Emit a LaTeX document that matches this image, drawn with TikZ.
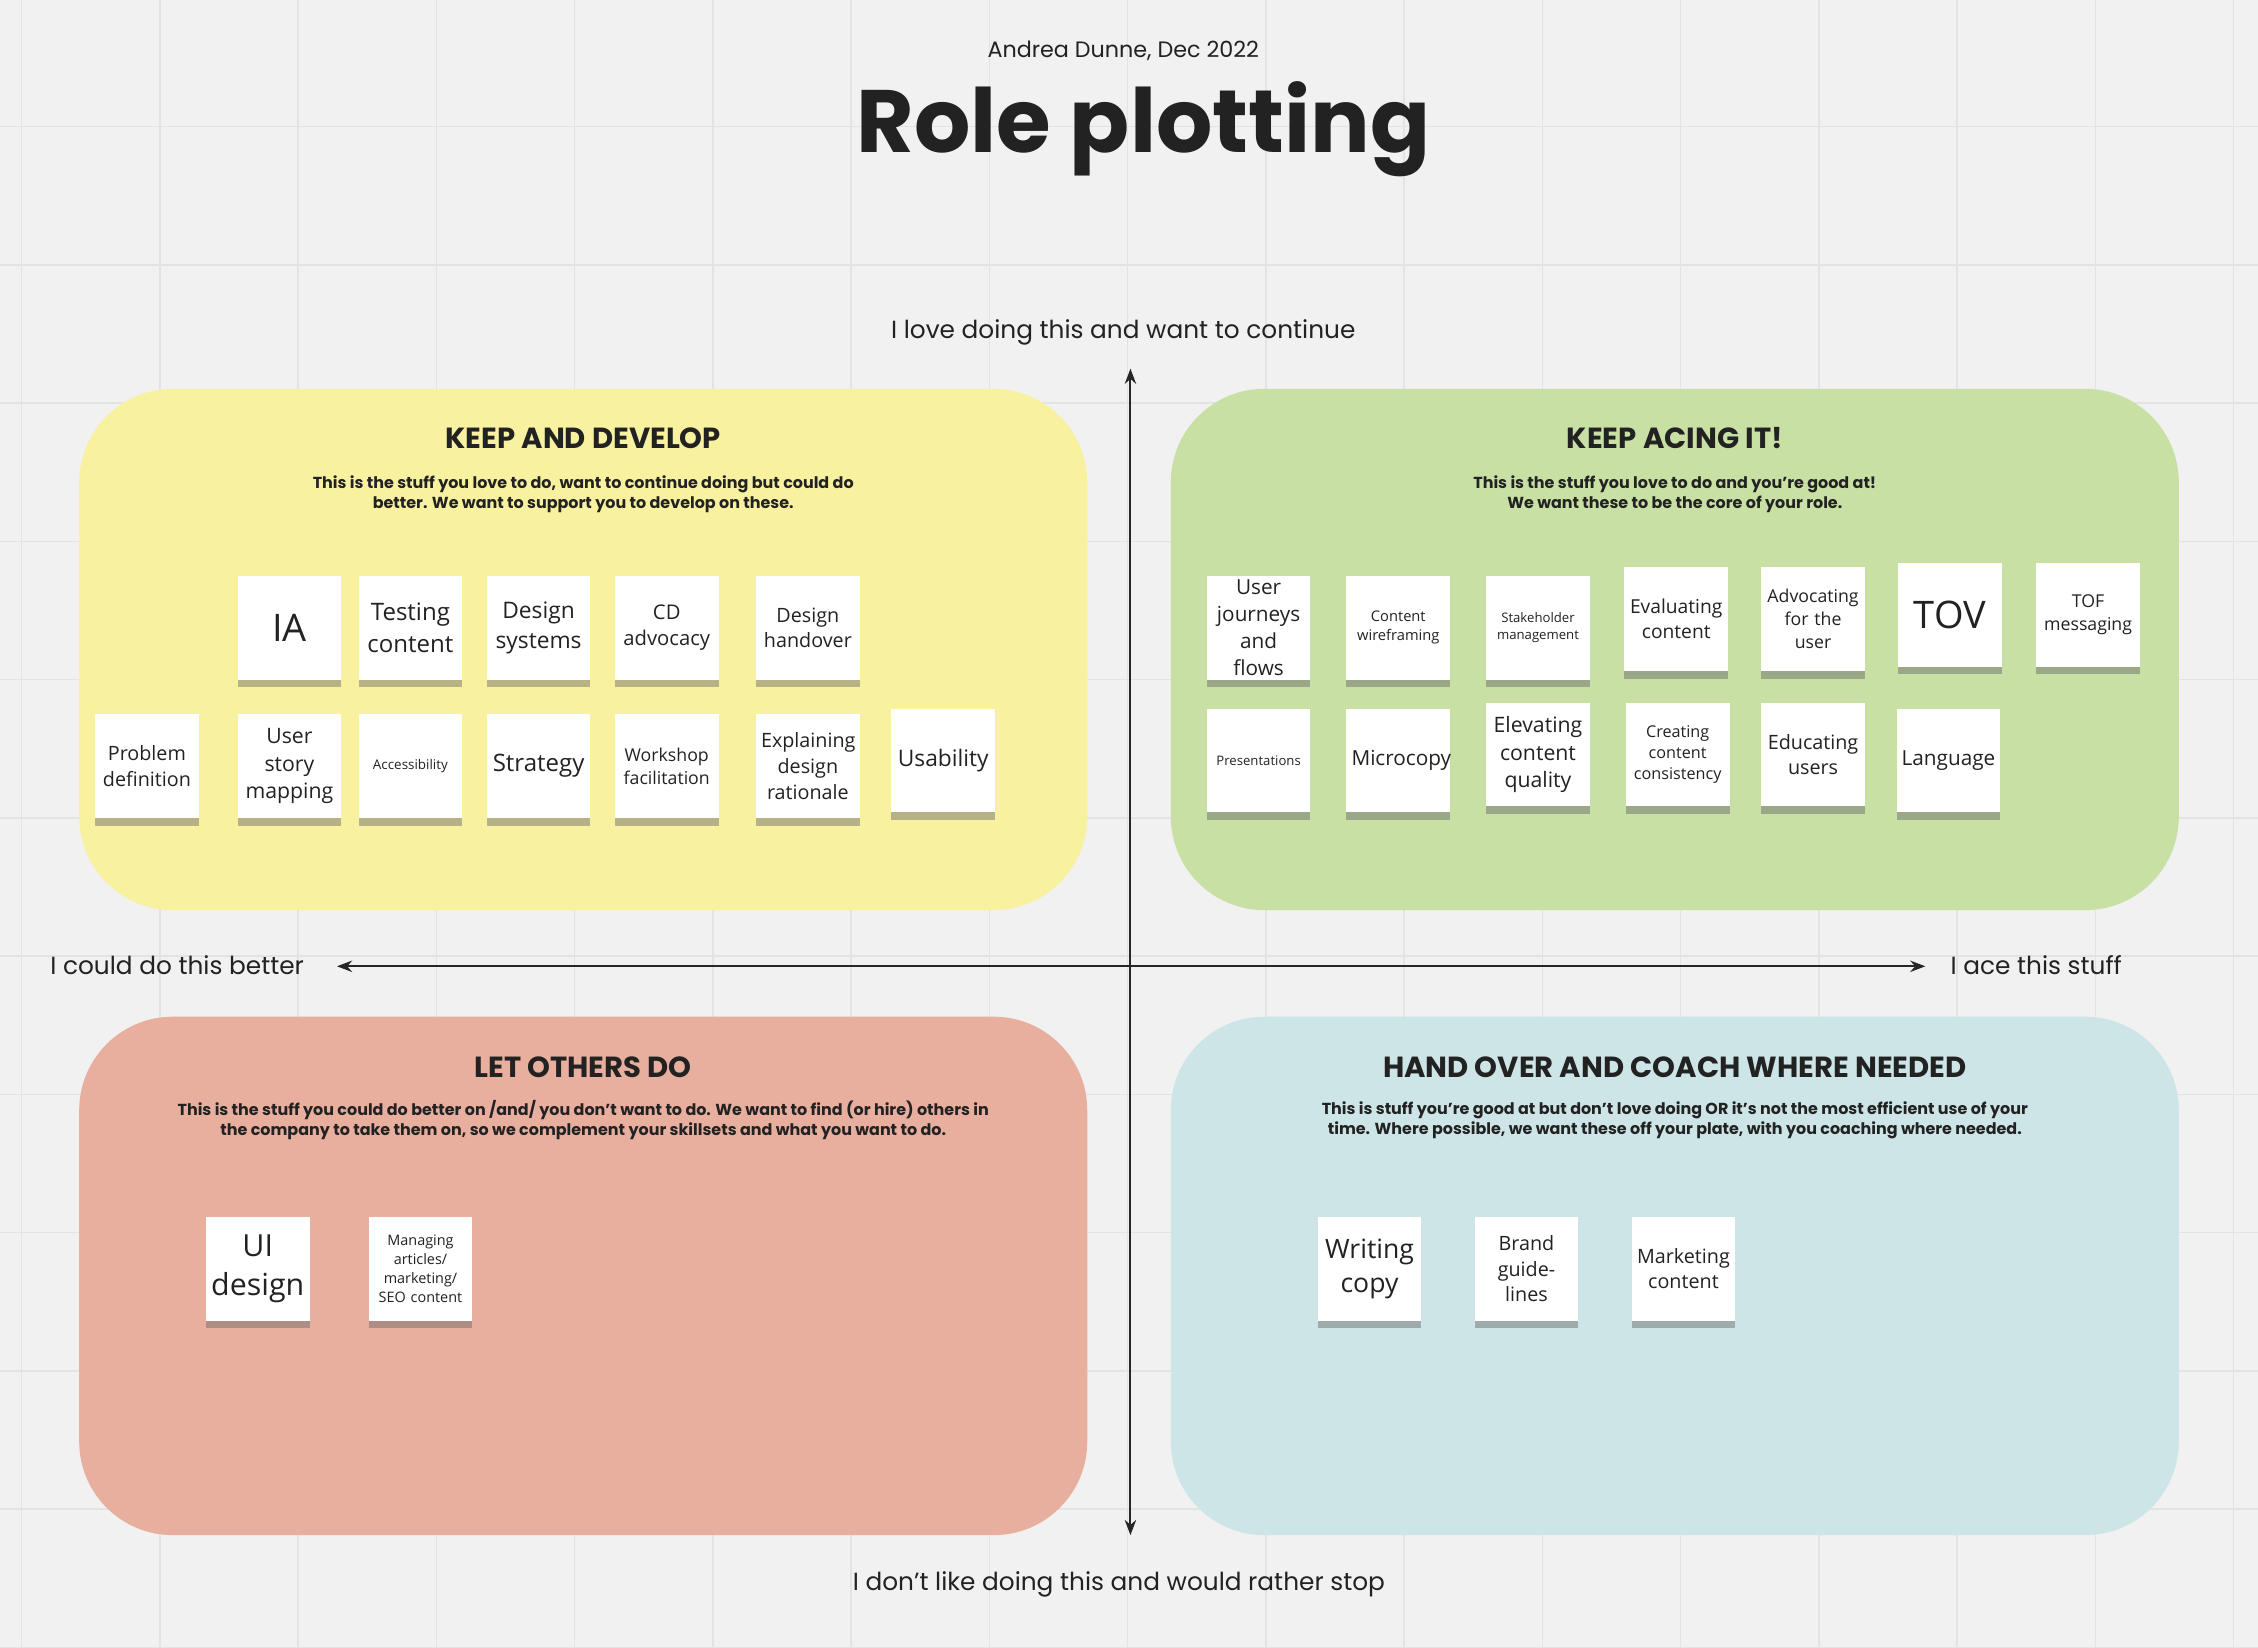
\documentclass[tikz,border=0pt]{standalone}
\usepackage{fontspec}
\setmainfont{Poppins}
\newfontfamily\stk{Open Sans}
\usetikzlibrary{shadows,arrows.meta}
\definecolor{bg}{HTML}{F0F1F0}
\definecolor{gridc}{HTML}{E2E4E2}
\definecolor{qy}{HTML}{F8F1A0}
\definecolor{qg}{HTML}{C8E0A4}
\definecolor{qr}{HTML}{E8AE9E}
\definecolor{qb}{HTML}{CDE5E7}
\definecolor{ink}{HTML}{222222}
\tikzset{
  quad/.style={rounded corners=1.3cm},
  stickybox/.style={fill=white, minimum width=1.44cm, minimum height=1.44cm, text width=1.3cm, align=center, inner sep=1pt, text=ink,
     drop shadow={shadow xshift=0pt, shadow yshift=-3pt, opacity=.45, fill=black!60}},
  head/.style={font=\fontsize{11.5}{13}\selectfont\bfseries, text=ink},
  desc/.style={font=\fontsize{6.3}{7.8}\selectfont\bfseries, text=ink, align=center},
  axl/.style={font=\fontsize{9.8}{11}\selectfont, text=ink},
  axis/.style={thick, black!85, {Stealth[length=6pt]}-{Stealth[length=6pt]}},
}
\newcommand{\stick}[5]{\node[stickybox, font=\stk\fontsize{#4}{\fpeval{#4*1.3}}\selectfont] (#1) at (#2,#3) {#5};}
\begin{document}
\begin{tikzpicture}[x=0.02cm,y=-0.02cm]
\useasboundingbox (0,0) rectangle (1568,1144);
\fill[bg] (0,0) rectangle (1568,1144);
\foreach \gx in {15,111,...,1568} \draw[gridc, line width=0.6pt] (\gx,0) -- (\gx,1144);
\foreach \gy in {88,184,...,1144} \draw[gridc, line width=0.6pt] (0,\gy) -- (1568,\gy);
% quadrants
\fill[qy, quad] (55,270) rectangle (755,632);
\fill[qg, quad] (813,270) rectangle (1513,632);
\fill[qr, quad] (55,706) rectangle (755,1066);
\fill[qb, quad] (813,706) rectangle (1513,1066);
% title
\node[font=\fontsize{8.8}{10}\selectfont, text=ink] (author) at (780,35) {Andrea Dunne, Dec 2022};
\node[font=\fontsize{35}{40}\selectfont\bfseries, text=ink] (title) at (794,90) {Role plotting};
% axes
\coordinate (vt) at (785,256); \coordinate (vb) at (785,1066);
\coordinate (hl) at (234,671); \coordinate (hr) at (1337,671);
\draw[axis] (vb) -- (vt);
\draw[axis] (hl) -- (hr);
\node[axl] (top) at (780,231) {I love doing this and want to continue};
\node[axl] (bot) at (777,1100) {I don't like doing this and would rather stop};
\node[axl] (lft) at (123,670) {I could do this better};
\node[axl] (rgt) at (1414,670) {I ace this stuff};
% headings
\node[head] (h1) at (405,304) {KEEP AND DEVELOP};
\node[desc] (d1) at (405,343) {This is the stuff you love to do, want to continue doing but could do\\better. We want to support you to develop on these.};
\node[head] (h2) at (1163,304) {KEEP ACING IT!};
\node[desc] (d2) at (1163,343) {This is the stuff you love to do and you're good at!\\We want these to be the core of your role.};
\node[head] (h3) at (405,741) {LET OTHERS DO};
\node[desc] (d3) at (405,778) {This is the stuff you could do better on /and/ you don't want to do. We want to find (or hire) others in\\the company to take them on, so we complement your skillsets and what you want to do.};
\node[head] (h4) at (1163,741) {HAND OVER AND COACH WHERE NEEDED};
\node[desc] (d4) at (1163,778) {This is stuff you're good at but don't love doing OR it's not the most efficient use of your\\time. Where possible, we want these off your plate, with you coaching where needed.};
% yellow stickies
\stick{s1}{201}{436}{15}{IA}
\stick{s2}{285}{436}{9.5}{Testing content}
\stick{s3}{374}{436}{9}{Design systems}
\stick{s4}{463}{436}{8}{CD advocacy}
\stick{s5}{561}{436}{7.8}{Design handover}
\stick{s6}{102}{532}{7.8}{Problem definition}
\stick{s7}{201}{532}{8.4}{User story mapping}
\stick{s8}{285}{532}{5.3}{Accessibility}
\stick{s9}{374}{532}{9.5}{Strategy}
\stick{s10}{463}{532}{7}{Workshop facilitation}
\stick{s11}{561}{532}{7.8}{Explaining design rationale}
\stick{s12}{655}{528}{9}{Usability}
% green stickies
\stick{g1}{874}{436}{8.2}{User journeys and flows}
\stick{g2}{971}{436}{5.8}{Content wireframing}
\stick{g3}{1068}{436}{5.2}{Stakeholder management}
\stick{g4}{1164}{430}{7.6}{Evaluating content}
\stick{g5}{1259}{430}{7}{Advocating for the user}
\stick{g6}{1354}{427}{15}{TOV}
\stick{g7}{1450}{427}{7}{TOF messaging}
\stick{g8}{874}{528}{5.2}{Presentations}
\stick{g9}{971}{528}{8.2}{Microcopy}
\stick{g10}{1068}{524}{8.4}{Elevating content quality}
\stick{g11}{1165}{524}{6.4}{Creating content consistency}
\stick{g12}{1259}{524}{7.8}{Educating users}
\stick{g13}{1353}{528}{8.2}{Language}
% red stickies
\stick{r1}{179}{881}{12}{UI design}
\stick{r2}{292}{881}{5.7}{Managing articles/ marketing/ SEO content}
% blue stickies
\stick{b1}{951}{881}{10.5}{Writing copy}
\stick{b2}{1060}{881}{7.8}{Brand guidelines}
\stick{b3}{1169}{881}{7.8}{Marketing content}
\end{tikzpicture}
\end{document}
